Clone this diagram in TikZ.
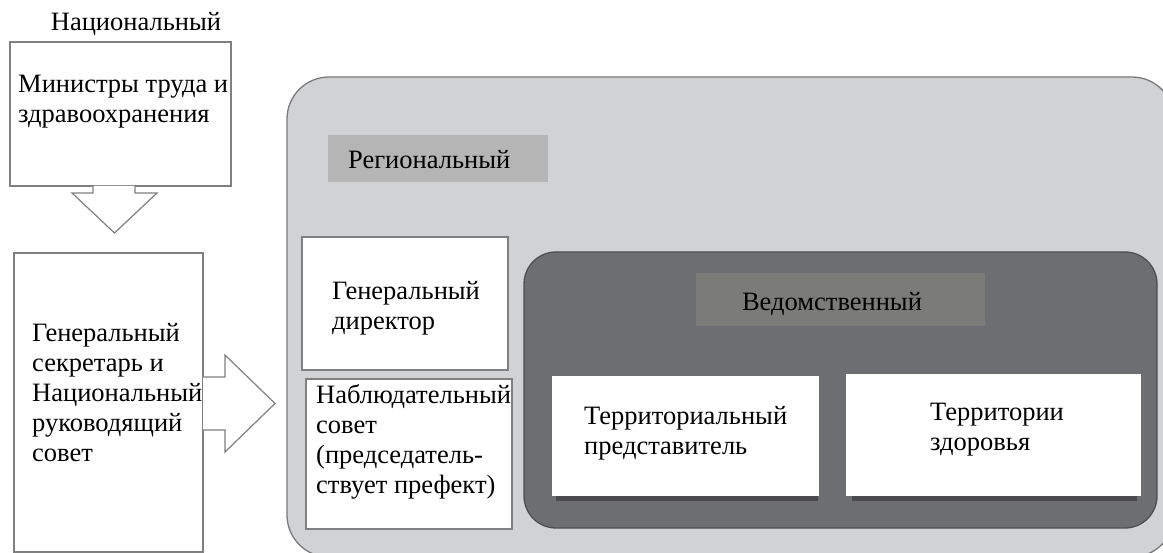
\documentclass[tikz,border=0pt]{standalone}
\usepackage{fontspec}
\setmainfont{Liberation Serif}
\definecolor{bigfill}{HTML}{D1D2D4}
\definecolor{bigdraw}{HTML}{7A7A7A}
\definecolor{reglab}{HTML}{B5B5B5}
\definecolor{darkfill}{HTML}{6D6E71}
\definecolor{darkdraw}{HTML}{4F4F51}
\definecolor{vedlab}{HTML}{7B7B79}
\definecolor{shadowc}{HTML}{4A4A4C}
\definecolor{boxdraw}{HTML}{808080}
\begin{document}
\begin{tikzpicture}[x=1pt,y=-1pt,
  wbox/.style={draw=boxdraw,line width=1.2pt,fill=white,inner sep=0pt,outer sep=0pt,anchor=north west},
  txt/.style={inner sep=0pt,align=left,anchor=west,font=\fontsize{26.5}{30}\selectfont},
  blockarrow/.style={draw=boxdraw,line width=1.2pt,fill=white,line join=miter}]
\useasboundingbox (0,0) rectangle (1163,553);
\fill[white] (0,0) rectangle (1163,553);
\clip (0,0) rectangle (1163,553);
% national level
\node[inner sep=0pt,font=\fontsize{26.5}{30}\selectfont] (nat) at (136,24) {Национальный};
\node[wbox,minimum width=221pt,minimum height=144pt] (min) at (10,42) {};
\node[txt] (mintxt) at (18,102) {Министры труда и\\здравоохранения};
\draw[blockarrow] (93,186) -- (93,193) -- (72,193) -- (114.5,233) -- (157,193) -- (135,193) -- (135,186);
\node[wbox,minimum width=189pt,minimum height=299pt] (gs) at (14,253) {};
\node[txt] (gstxt) at (32,393) {Генеральный\\секретарь и\\Национальный\\руководящий\\совет};
\draw[blockarrow] (203,377) -- (225,377) -- (225,355) -- (275,403.5) -- (225,452) -- (225,430) -- (203,430);
% regional level
\draw[draw=bigdraw,line width=1.3pt,fill=bigfill,rounded corners=42pt] (287,77) rectangle (1174,557);
\node[fill=reglab,inner sep=0pt,outer sep=0pt,anchor=north west,minimum width=220pt,minimum height=47pt] (reg) at (328,135) {};
\node[txt,font=\fontsize{26.5}{30}\selectfont] (regtxt) at (348,160) {Региональный};
\node[wbox,minimum width=206pt,minimum height=133pt] (gd) at (302,237) {};
\node[txt] (gdtxt) at (332,308) {Генеральный\\директор};
\node[wbox,minimum width=206pt,minimum height=150pt] (nc) at (306,379) {};
\node[txt] (nctxt) at (316,442) {Наблюдательный\\совет\\(председатель-\\ствует префект)};
% departmental level
\draw[draw=darkdraw,line width=1.3pt,fill=darkfill,rounded corners=32pt] (524,252) rectangle (1157,528);
\node[fill=vedlab,inner sep=0pt,outer sep=0pt,anchor=north west,minimum width=289pt,minimum height=53pt] (ved) at (696,273) {};
\node[inner sep=0pt,font=\fontsize{26.5}{30}\selectfont] (vedtxt) at (832,304) {Ведомственный};
\fill[shadowc] (556,492) rectangle (818,501);
\fill[shadowc] (852,492) rectangle (1137,501);
\node[fill=white,inner sep=0pt,outer sep=0pt,anchor=north west,minimum width=267pt,minimum height=120pt] (tr) at (552,376) {};
\node[txt] (trtxt) at (584,433) {Территориальный\\представитель};
\node[fill=white,inner sep=0pt,outer sep=0pt,anchor=north west,minimum width=295pt,minimum height=122pt] (th) at (846,374) {};
\node[txt] (thtxt) at (930,430) {Территории\\здоровья};
\end{tikzpicture}
\end{document}
